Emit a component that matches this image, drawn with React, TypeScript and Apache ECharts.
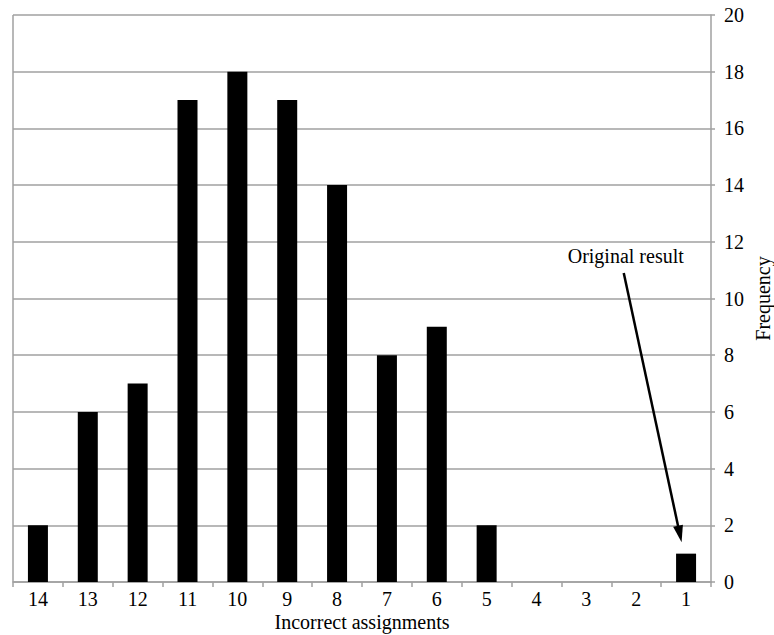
import React, { useEffect, useRef } from "react";
import * as echarts from "echarts";

const categories = ["14", "13", "12", "11", "10", "9", "8", "7", "6", "5", "4", "3", "2", "1"];
const frequency = [2, 6, 7, 17, 18, 17, 14, 8, 9, 2, 0, 0, 0, 1];
const yTicks = { min: 0, max: 20, interval: 2 };
const xTitle = "Incorrect assignments";
const yTitle = "Frequency";
const annotationText = "Original result";
// annotation arrow in data space: [fractional category index, value]
const arrowStart = [11.75, 10.9];
const arrowEnd = [12.91, 1.4];

const FONT = "Liberation Serif";

export default function App() {
  const ref = useRef<HTMLDivElement>(null);
  useEffect(() => {
    if (!ref.current) return;
    const chart = echarts.init(ref.current, undefined, { renderer: "svg" });
    chart.setOption({
      animation: false,
      backgroundColor: "#ffffff",
      textStyle: { fontFamily: FONT, color: "#000" },
      grid: { left: 13, right: 63, top: 15, bottom: 53, containLabel: false, outerBoundsMode: "none" },
      xAxis: {
        type: "category",
        data: categories,
        boundaryGap: true,
        name: xTitle,
        nameLocation: "middle",
        nameGap: 30,
        nameMoveOverlap: false,
        nameTextStyle: { fontFamily: FONT, fontSize: 20, color: "#000" },
        axisLine: { show: true, lineStyle: { color: "#a0a0a0", width: 1.5 } },
        axisTick: { show: true, alignWithLabel: false, length: 5, lineStyle: { color: "#a0a0a0", width: 1.5 } },
        axisLabel: { fontFamily: FONT, fontSize: 20, color: "#000", margin: 7 },
        splitLine: { show: false },
      },
      yAxis: {
        type: "value",
        position: "right",
        min: yTicks.min,
        max: yTicks.max,
        interval: yTicks.interval,
        name: yTitle,
        nameLocation: "middle",
        nameGap: 42,
        nameMoveOverlap: false,
        nameRotate: 90,
        nameTextStyle: { fontFamily: FONT, fontSize: 20, color: "#000" },
        axisLine: { show: true, lineStyle: { color: "#a0a0a0", width: 1.5 } },
        axisTick: { show: true, length: 4, lineStyle: { color: "#a0a0a0", width: 1.5 } },
        axisLabel: { fontFamily: FONT, fontSize: 20, color: "#000", margin: 13 },
        splitLine: { show: true, lineStyle: { color: "#a0a0a0", width: 1.5 } },
      },
      series: [
        {
          type: "bar",
          data: frequency,
          barWidth: 20,
          itemStyle: { color: "#000" },
        },
      ],
    });

    const toPx = (pt: number[]) => {
      const i0 = Math.floor(pt[0]);
      const i1 = Math.min(i0 + 1, categories.length - 1);
      const a = chart.convertToPixel({ gridIndex: 0 }, [categories[i0], pt[1]]) as number[];
      const b = chart.convertToPixel({ gridIndex: 0 }, [categories[i1], pt[1]]) as number[];
      const step = i1 === i0 ? 0 : b[0] - a[0];
      return [a[0] + step * (pt[0] - i0), a[1]];
    };
    const s = toPx(arrowStart);
    const e = toPx(arrowEnd);
    const dx = e[0] - s[0];
    const dy = e[1] - s[1];
    const len = Math.sqrt(dx * dx + dy * dy);
    const ux = dx / len;
    const uy = dy / len;
    const headLen = 17;
    const headW = 5;
    const bx = e[0] - ux * headLen;
    const by = e[1] - uy * headLen;
    const px = -uy;
    const py = ux;
    const base = chart.convertToPixel({ gridIndex: 0 }, [categories[0], 0]) as number[];
    const top = chart.convertToPixel({ gridIndex: 0 }, [categories[0], yTicks.max]) as number[];
    const leftX = (chart.getModel() as any).getComponent("grid", 0).coordinateSystem.getRect().x;

    chart.setOption({
      graphic: [
        {
          type: "line",
          shape: { x1: s[0], y1: s[1], x2: bx + ux * 2, y2: by + uy * 2 },
          style: { stroke: "#000", lineWidth: 2.5 },
          z: 100,
        },
        {
          type: "polygon",
          shape: {
            points: [
              [e[0], e[1]],
              [bx + px * headW, by + py * headW],
              [bx - px * headW, by - py * headW],
            ],
          },
          style: { fill: "#000" },
          z: 100,
        },
        {
          type: "text",
          x: s[0] + 2,
          y: s[1] - 7,
          style: {
            text: annotationText,
            fontFamily: FONT,
            fontSize: 20,
            fill: "#000",
            align: "center",
            verticalAlign: "bottom",
          },
          z: 100,
        },
        {
          type: "line",
          shape: { x1: leftX, y1: top[1], x2: leftX, y2: base[1] },
          style: { stroke: "#a0a0a0", lineWidth: 1.5 },
          z: 1,
        },
      ],
    });

    return () => chart.dispose();
  }, []);
  return (
    <div
      ref={ref}
      style={{ position: "fixed", left: 0, top: 0, width: 774, height: 635, background: "#fff" }}
    />
  );
}
